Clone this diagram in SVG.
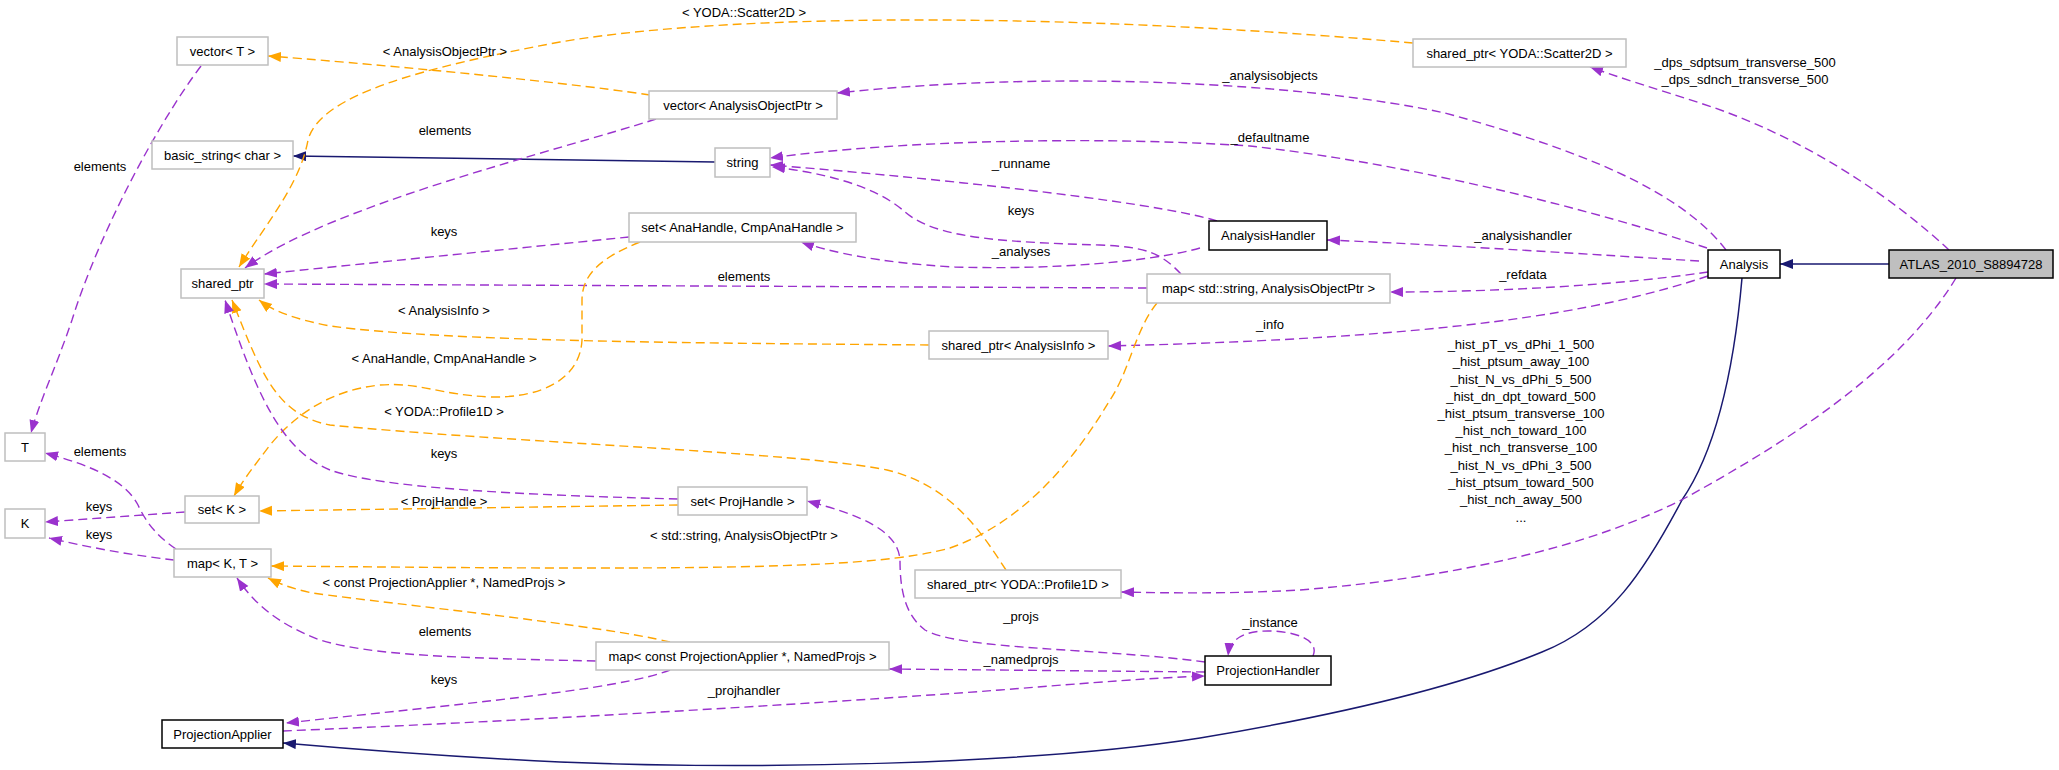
<svg xmlns="http://www.w3.org/2000/svg" width="2059" height="770" viewBox="0 0 2059 770">
<style>
text{font-family:"Liberation Sans",Arial,sans-serif;font-size:13px;fill:#000;text-anchor:middle}
.g rect{fill:#fff;stroke:#bfbfbf;stroke-width:1.5}
.b rect{fill:#fff;stroke:#000;stroke-width:1.5}
.p{fill:none;stroke:#9a32cd;stroke-width:1.4;stroke-dasharray:9,5;marker-end:url(#mp)}
.o{fill:none;stroke:#ffa500;stroke-width:1.4;stroke-dasharray:9,5;marker-end:url(#mo)}
.n{fill:none;stroke:#191970;stroke-width:1.5;marker-end:url(#mn)}
</style>
<defs>
<marker id="mp" markerUnits="userSpaceOnUse" markerWidth="14" markerHeight="11" refX="13" refY="5" orient="auto"><path d="M0,0 L13,5 L0,10 z" fill="#9a32cd"/></marker>
<marker id="mo" markerUnits="userSpaceOnUse" markerWidth="14" markerHeight="11" refX="13" refY="5" orient="auto"><path d="M0,0 L13,5 L0,10 z" fill="#ffa500"/></marker>
<marker id="mn" markerUnits="userSpaceOnUse" markerWidth="14" markerHeight="11" refX="13" refY="5" orient="auto"><path d="M0,0 L13,5 L0,10 z" fill="#191970"/></marker>
</defs>
<rect width="2059" height="770" fill="#fff"/>
<g id="edges">
<path class="n" d="M1889,264 L1780,264"/>
<path class="n" d="M1742,278 C1734,370 1716,450 1682,500 C1645,570 1610,625 1542,652 C1450,690 1320,718 1200,738 C1030,765 750,770 560,762 C430,756 340,748 283,743"/>
<path class="n" d="M715,162 L293,156"/>
<path class="p" d="M1949,250 C1890,195 1800,135 1700,103 C1660,90 1620,78 1590,67"/>
<path class="p" d="M1956,278 C1900,370 1790,440 1687,497 C1590,548 1450,578 1300,590 C1230,594 1170,593 1121,592"/>
<path class="p" d="M1726,250 C1680,190 1580,150 1445,113 C1300,82 1050,70 837,93"/>
<path class="p" d="M1707,248 C1600,212 1420,165 1250,146 C1100,136 900,140 770,158"/>
<path class="p" d="M1699,261 C1600,255 1450,245 1327,240"/>
<path class="p" d="M1708,272 C1620,285 1500,292 1390,292"/>
<path class="p" d="M1708,276 C1600,312 1450,338 1108,346"/>
<path class="p" d="M1217,221 C1150,200 900,175 770,165"/>
<path class="p" d="M1200,248 C1150,262 1050,270 955,267 C880,263 830,252 801,242"/>
<path class="p" d="M1181,274 C1160,252 1145,247 1100,245 C1000,242 935,238 905,212 C875,185 820,172 772,167"/>
<path class="p" d="M629,237 C500,250 350,265 264,274"/>
<path class="p" d="M1147,288 L264,284"/>
<path class="p" d="M656,119 C560,150 330,205 245,268"/>
<path class="o" d="M650,95 C550,80 350,62 268,56"/>
<path class="o" d="M1413,43 C1100,15 750,10 560,42 C420,68 320,95 308,140 C300,185 265,225 239,267"/>
<path class="o" d="M929,345 C700,343 450,342 330,326 C290,318 272,310 259,300"/>
<path class="o" d="M1006,570 C980,530 950,485 887,470 C800,452 500,442 330,425 C275,415 260,370 232,300"/>
<path class="o" d="M640,242 C600,258 582,275 582,300 L582,340 C580,380 540,398 491,397 C440,395 420,382 380,385 C330,390 295,415 270,445 C255,465 243,480 234,496"/>
<path class="p" d="M678,499 C520,495 380,488 330,470 C280,450 255,390 225,300"/>
<path class="o" d="M678,505 L259,511"/>
<path class="p" d="M185,512 L45,522"/>
<path class="p" d="M174,560 C140,556 100,550 49,538"/>
<path class="p" d="M176,549 C155,535 145,520 138,505 C125,480 90,465 45,453"/>
<path class="p" d="M201,66 C160,120 100,230 72,320 C55,370 40,400 31,433"/>
<path class="o" d="M1157,303 C1135,330 1130,370 1110,400 C1080,450 1030,520 950,548 C870,570 700,570 271,566"/>
<path class="o" d="M670,642 C600,625 400,605 312,593 C290,588 280,584 268,578"/>
<path class="p" d="M596,661 C450,658 370,655 320,640 C280,625 255,605 237,578"/>
<path class="p" d="M670,670 C620,690 450,705 286,723"/>
<path class="p" d="M283,731 C500,722 800,705 1000,690 C1100,682 1150,678 1205,676"/>
<path class="p" d="M1205,672 L889,669"/>
<path class="p" d="M1205,662 C1100,648 960,650 925,630 C905,615 900,590 900,560 C898,530 860,515 807,501"/>
<path class="p" d="M1313,656 C1320,640 1295,631 1268,631 C1245,631 1230,638 1228,656"/>
<text x="445" y="56">&lt; AnalysisObjectPtr &gt;</text>
<text x="445" y="135">elements</text>
<text x="744" y="17">&lt; YODA::Scatter2D &gt;</text>
<text x="1270" y="80">_analysisobjects</text>
<text x="1270" y="142">_defaultname</text>
<text x="1021" y="168">_runname</text>
<text x="1021" y="215">keys</text>
<text x="1021" y="256">_analyses</text>
<text x="1523" y="240">_analysishandler</text>
<text x="1523" y="279">_refdata</text>
<text x="1270" y="329">_info</text>
<text x="1745" y="67">_dps_sdptsum_transverse_500</text>
<text x="1745" y="84">_dps_sdnch_transverse_500</text>
<text x="444" y="236">keys</text>
<text x="744" y="281">elements</text>
<text x="444" y="315">&lt; AnalysisInfo &gt;</text>
<text x="444" y="363">&lt; AnaHandle, CmpAnaHandle &gt;</text>
<text x="444" y="416">&lt; YODA::Profile1D &gt;</text>
<text x="444" y="458">keys</text>
<text x="444" y="506">&lt; ProjHandle &gt;</text>
<text x="744" y="540">&lt; std::string, AnalysisObjectPtr &gt;</text>
<text x="444" y="587">&lt; const ProjectionApplier *, NamedProjs &gt;</text>
<text x="445" y="636">elements</text>
<text x="444" y="684">keys</text>
<text x="744" y="695">_projhandler</text>
<text x="1021" y="621">_projs</text>
<text x="1270" y="627">_instance</text>
<text x="1021" y="664">_namedprojs</text>
<text x="100" y="171">elements</text>
<text x="100" y="456">elements</text>
<text x="99" y="511">keys</text>
<text x="99" y="539">keys</text>
<text x="1521" y="349">_hist_pT_vs_dPhi_1_500</text>
<text x="1521" y="366">_hist_ptsum_away_100</text>
<text x="1521" y="384">_hist_N_vs_dPhi_5_500</text>
<text x="1521" y="401">_hist_dn_dpt_toward_500</text>
<text x="1521" y="418">_hist_ptsum_transverse_100</text>
<text x="1521" y="435">_hist_nch_toward_100</text>
<text x="1521" y="452">_hist_nch_transverse_100</text>
<text x="1521" y="470">_hist_N_vs_dPhi_3_500</text>
<text x="1521" y="487">_hist_ptsum_toward_500</text>
<text x="1521" y="504">_hist_nch_away_500</text>
<text x="1521" y="522">...</text>
</g>
<g id="n_atlas"><rect x="1889" y="250" width="164" height="28" fill="#bfbfbf" stroke="#000" stroke-width="1.5"/><text x="1971" y="269">ATLAS_2010_S8894728</text></g>
<g id="n_analysis" class="b"><rect x="1708" y="250" width="72" height="28"/><text x="1744" y="269">Analysis</text></g>
<g id="n_scatter" class="g"><rect x="1413" y="39" width="213" height="28"/><text x="1519.5" y="58">shared_ptr&lt; YODA::Scatter2D &gt;</text></g>
<g id="n_vecaop" class="g"><rect x="649" y="91" width="188" height="28"/><text x="743" y="110">vector&lt; AnalysisObjectPtr &gt;</text></g>
<g id="n_vecT" class="g"><rect x="177" y="37" width="91" height="28"/><text x="222.5" y="56">vector&lt; T &gt;</text></g>
<g id="n_basic" class="g"><rect x="152" y="141" width="141" height="28"/><text x="222.5" y="160">basic_string&lt; char &gt;</text></g>
<g id="n_string" class="g"><rect x="715" y="148" width="55" height="29"/><text x="742.5" y="167">string</text></g>
<g id="n_setana" class="g"><rect x="629" y="213" width="227" height="29"/><text x="742.5" y="232">set&lt; AnaHandle, CmpAnaHandle &gt;</text></g>
<g id="n_handler" class="b"><rect x="1209" y="221" width="118" height="29"/><text x="1268" y="240">AnalysisHandler</text></g>
<g id="n_shared" class="g"><rect x="181" y="269" width="83" height="29"/><text x="222.5" y="288">shared_ptr</text></g>
<g id="n_mapstr" class="g"><rect x="1147" y="274" width="243" height="29"/><text x="1268.5" y="293">map&lt; std::string, AnalysisObjectPtr &gt;</text></g>
<g id="n_info" class="g"><rect x="929" y="331" width="179" height="28"/><text x="1018.5" y="350">shared_ptr&lt; AnalysisInfo &gt;</text></g>
<g id="n_T" class="g"><rect x="5" y="433" width="40" height="28"/><text x="25" y="452">T</text></g>
<g id="n_setK" class="g"><rect x="185" y="496" width="74" height="27"/><text x="222" y="514">set&lt; K &gt;</text></g>
<g id="n_K" class="g"><rect x="5" y="509" width="40" height="29"/><text x="25" y="528">K</text></g>
<g id="n_setproj" class="g"><rect x="678" y="487" width="129" height="28"/><text x="742.5" y="506">set&lt; ProjHandle &gt;</text></g>
<g id="n_mapKT" class="g"><rect x="174" y="549" width="97" height="28"/><text x="222.5" y="568">map&lt; K, T &gt;</text></g>
<g id="n_profile" class="g"><rect x="915" y="570" width="206" height="28"/><text x="1018" y="589">shared_ptr&lt; YODA::Profile1D &gt;</text></g>
<g id="n_mapconst" class="g"><rect x="596" y="642" width="293" height="28"/><text x="742.5" y="661">map&lt; const ProjectionApplier *, NamedProjs &gt;</text></g>
<g id="n_projhandler" class="b"><rect x="1205" y="656" width="126" height="29"/><text x="1268" y="675">ProjectionHandler</text></g>
<g id="n_projapplier" class="b"><rect x="162" y="720" width="121" height="28"/><text x="222.5" y="739">ProjectionApplier</text></g>
</svg>
